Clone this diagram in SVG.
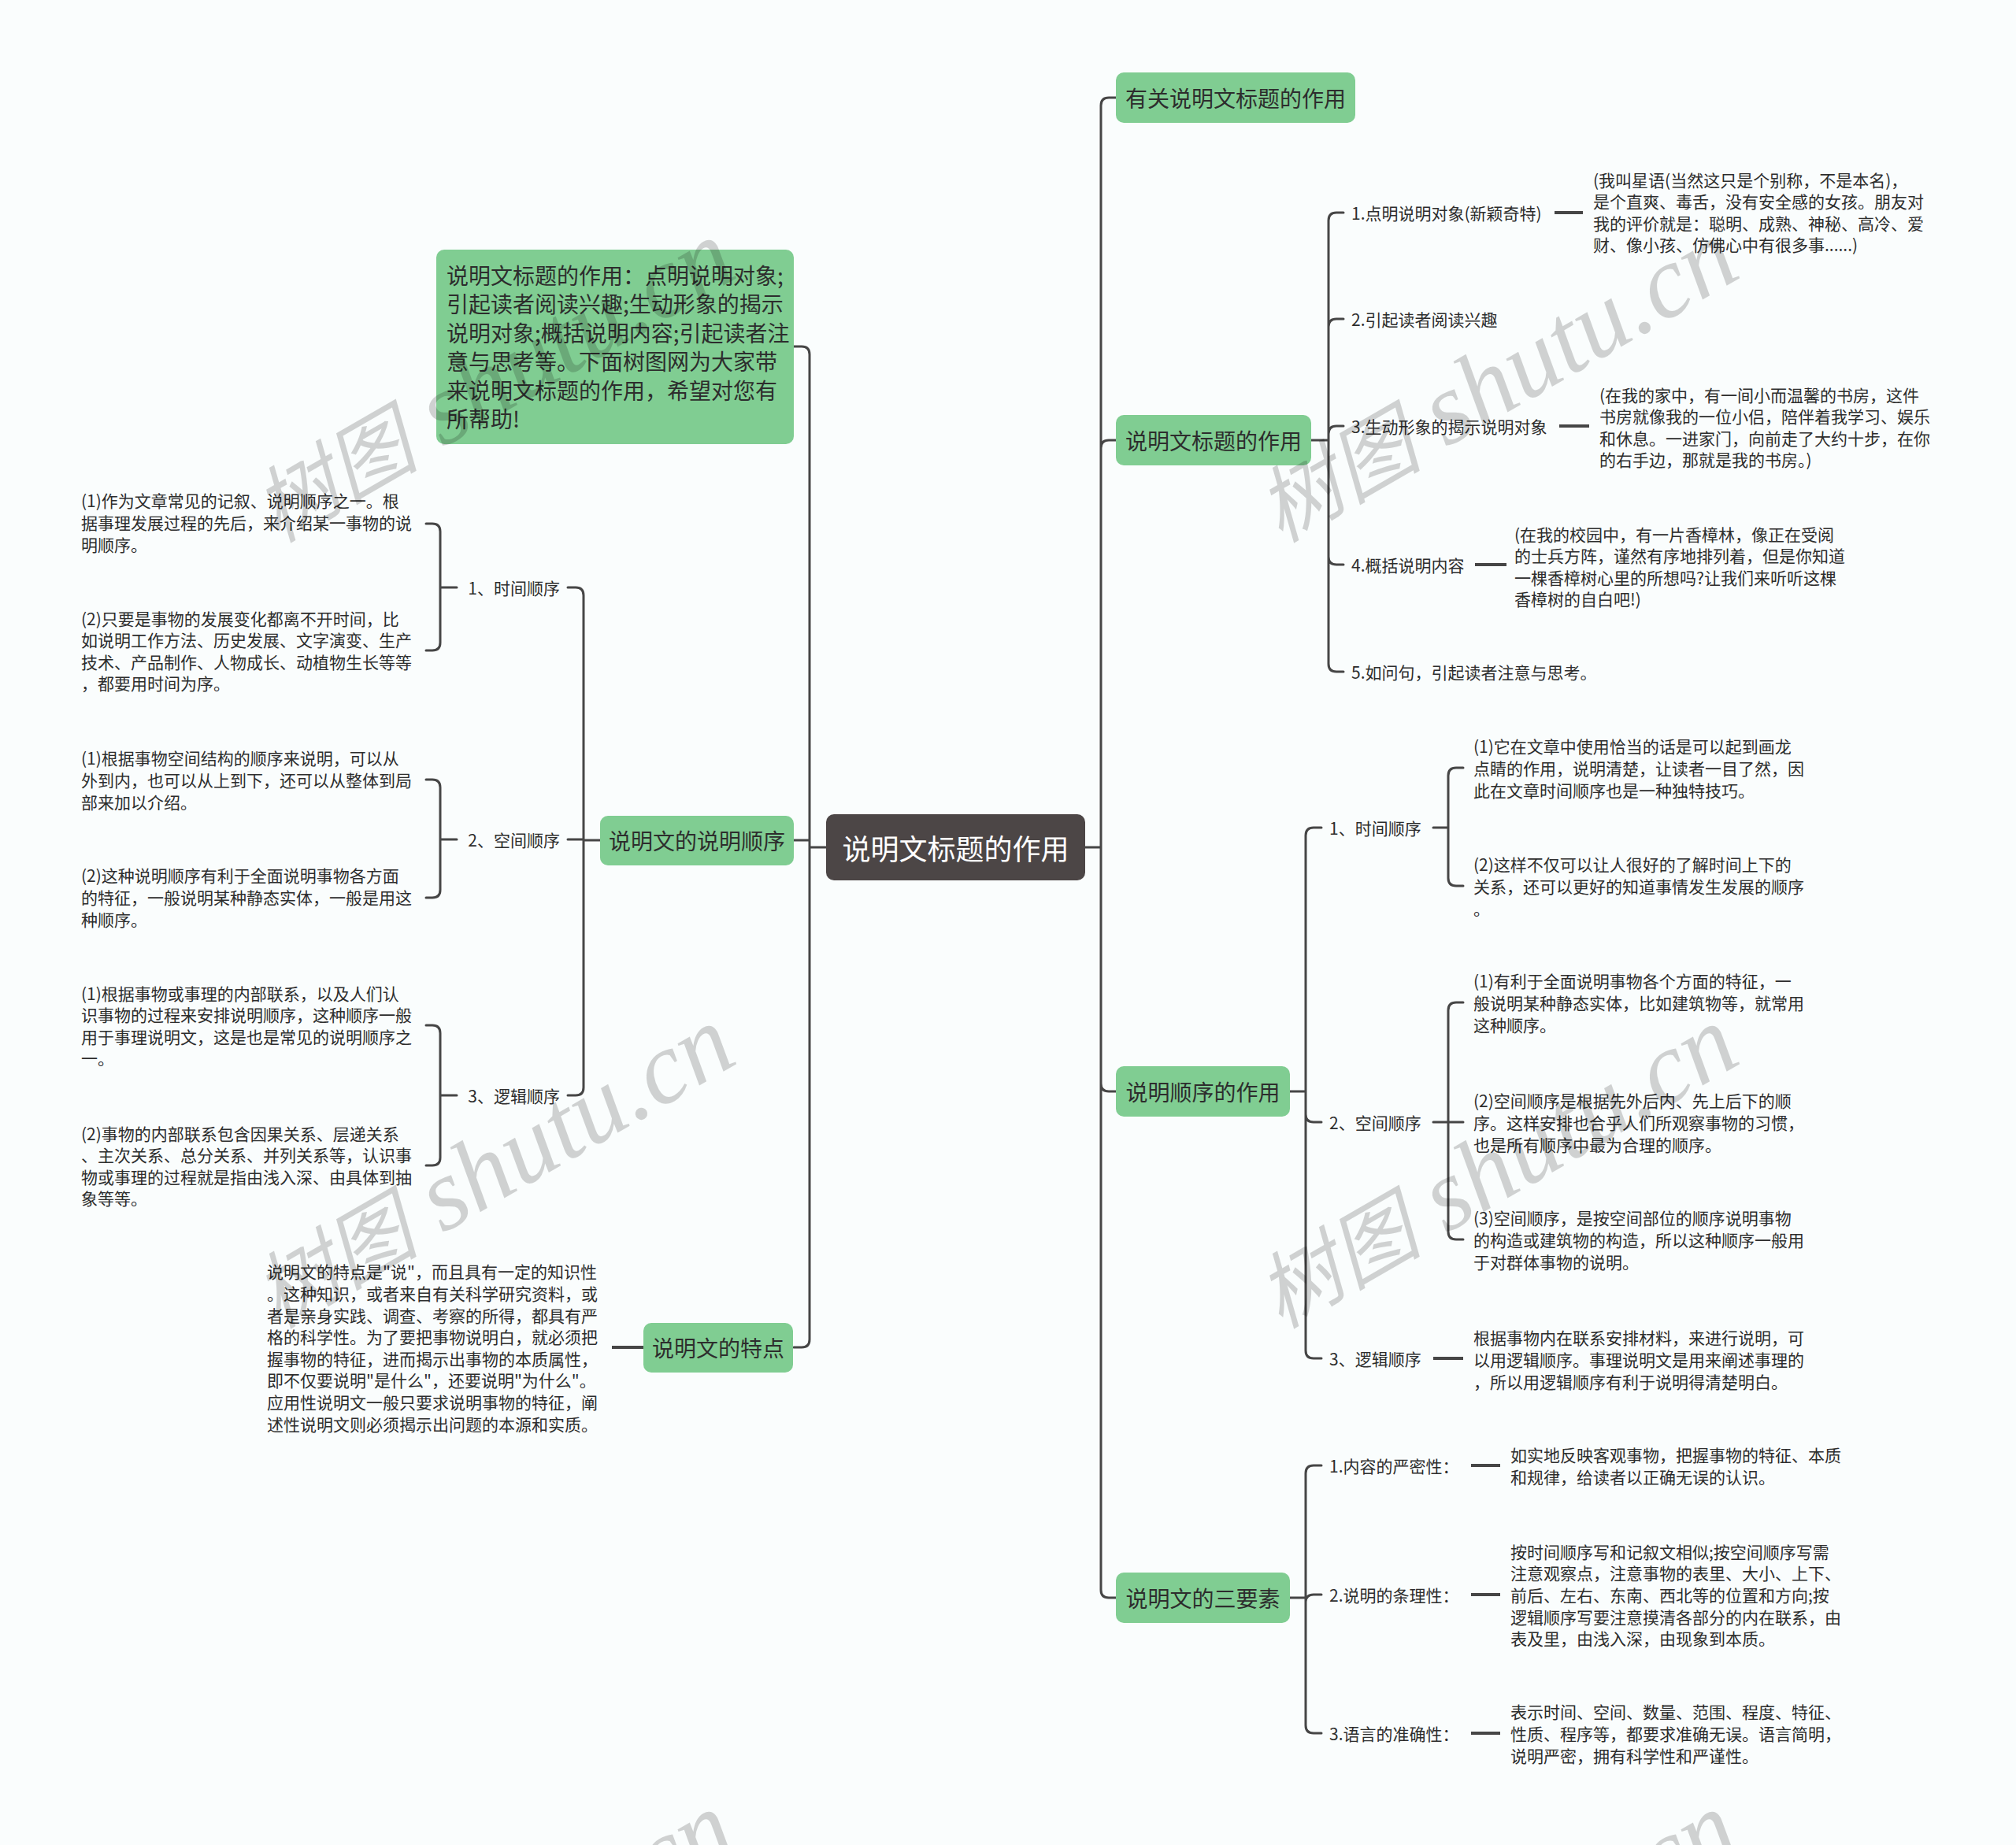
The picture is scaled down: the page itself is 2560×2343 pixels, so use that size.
<svg xmlns="http://www.w3.org/2000/svg" width="2560" height="2343" viewBox="0 0 2560 2343">
<style>
text,tspan{dominant-baseline:central}
.ln{fill:none;stroke:#464646;stroke-width:3;stroke-linecap:round;stroke-linejoin:round}
.dl{fill:none;stroke:#464646;stroke-width:4}
.gn{fill:#80cd92}
.rt{fill:#4c4646}
.tg{font-family:"Noto Sans CJK SC","Noto Sans",sans-serif;font-size:28px;fill:#2d2d2d;text-anchor:middle}
.tb{font-family:"Noto Sans CJK SC","Noto Sans",sans-serif;font-size:28px;fill:#2d2d2d}
.ts{font-family:"Noto Sans CJK SC","Noto Sans",sans-serif;font-size:21px;fill:#2d2d2d}
.te{text-anchor:end}
.wm{font-family:"Liberation Serif","Noto Sans CJK SC",serif;font-style:italic;font-size:105px;fill:#000;opacity:0.17}
.wm tspan,.wm{dominant-baseline:alphabetic}
.wl{font-size:130px}
</style>
<rect width="2560" height="2343" fill="#fafdfd"/>

<g id="connectors">
<path class="ln" d="M1378,1076 H1398 M1398,1076 V134 Q1398,124 1408,124 H1417 M1398,1076 V569 Q1398,559 1408,559 H1417 M1398,1076 V1376 Q1398,1386 1408,1386 H1417 M1398,1076 V2019 Q1398,2029 1408,2029 H1417"/>
<path class="ln" d="M1049,1076 H1028 M1028,1076 V450 Q1028,440 1018,440 H1008 M1008,1067 H1028 M1028,1076 V1701 Q1028,1711 1018,1711 H1008"/>
<path class="ln" d="M1665,559 H1687 M1687,559 V280 Q1687,270 1697,270 H1706 M1687,559 V415 Q1687,405 1697,405 H1706 M1687,559 V551 Q1687,541 1697,541 H1706 M1687,559 V707 Q1687,717 1697,717 H1706 M1687,559 V843 Q1687,853 1697,853 H1706"/>
<path class="dl" d="M1974,270 H2010 M1980,541 H2018 M1873,717 H1913"/>
<path class="ln" d="M1638,1386 H1658 M1658,1386 V1061 Q1658,1051 1668,1051 H1678 M1658,1386 V1415 Q1658,1425 1668,1425 H1678 M1658,1386 V1715 Q1658,1725 1668,1725 H1678"/>
<path class="ln" d="M1820,1051 H1839 M1839,1051 V985 Q1839,975 1849,975 H1858 M1839,1051 V1115 Q1839,1125 1849,1125 H1858"/>
<path class="ln" d="M1820,1425 H1858 M1839,1425 V1283 Q1839,1273 1849,1273 H1858 M1839,1425 V1564 Q1839,1574 1849,1574 H1858"/>
<path class="dl" d="M1820,1725 H1858"/>
<path class="ln" d="M1638,2029 H1658 M1658,2029 V1871 Q1658,1861 1668,1861 H1678 M1658,2029 V2035 Q1658,2025 1668,2025 H1678 M1658,2029 V2191 Q1658,2201 1668,2201 H1678"/>
<path class="dl" d="M1868,1861 H1905 M1868,2025 H1905 M1868,2201 H1905"/>
<path class="ln" d="M762,1067 H741 M741,1067 V756 Q741,746 731,746 H721 M741,1066 H721 M741,1067 V1381 Q741,1391 731,1391 H721"/>
<path class="ln" d="M580,746 H559 M559,746 V675 Q559,665 549,665 H541 M559,746 V816 Q559,826 549,826 H541"/>
<path class="ln" d="M580,1066 H559 M559,1066 V1000 Q559,990 549,990 H541 M559,1066 V1130 Q559,1140 549,1140 H541"/>
<path class="ln" d="M580,1391 H559 M559,1391 V1312 Q559,1302 549,1302 H541 M559,1391 V1470 Q559,1480 549,1480 H541"/>
<path class="dl" d="M817,1711 H777"/>
</g>

<g id="root">
<rect class="rt" x="1049" y="1034" width="329" height="84" rx="10"/>
<text x="1213.5" y="1076" font-family="Noto Sans CJK SC, sans-serif" font-size="36" fill="#ffffff" text-anchor="middle">说明文标题的作用</text>
</g>

<g id="n-r1">
<rect class="gn" x="1417" y="92" width="304" height="64" rx="10"/>
<text class="tg" x="1569" y="124">有关说明文标题的作用</text>
</g>

<g id="n-r2">
<rect class="gn" x="1417" y="527" width="248" height="64" rx="10"/>
<text class="tg" x="1541" y="559">说明文标题的作用</text>
</g>
<g id="n-r2-1">
<text class="ts" x="1716" y="270">1.点明说明对象(新颖奇特)</text>
<text class="ts"><tspan x="2023" y="227.6">(我叫星语(当然这只是个别称，不是本名)，</tspan><tspan x="2023" y="255.2">是个直爽、毒舌，没有安全感的女孩。朋友对</tspan><tspan x="2023" y="282.8">我的评价就是：聪明、成熟、神秘、高冷、爱</tspan><tspan x="2023" y="310.4">财、像小孩、仿佛心中有很多事......)</tspan></text>
</g>
<g id="n-r2-2"><text class="ts" x="1716" y="405">2.引起读者阅读兴趣</text></g>
<g id="n-r2-3">
<text class="ts" x="1716" y="541">3.生动形象的揭示说明对象</text>
<text class="ts"><tspan x="2031" y="500.6">(在我的家中，有一间小而温馨的书房，这件</tspan><tspan x="2031" y="528.2">书房就像我的一位小侣，陪伴着我学习、娱乐</tspan><tspan x="2031" y="555.8">和休息。一进家门，向前走了大约十步，在你</tspan><tspan x="2031" y="583.4">的右手边，那就是我的书房。)</tspan></text>
</g>
<g id="n-r2-4">
<text class="ts" x="1716" y="717">4.概括说明内容</text>
<text class="ts"><tspan x="1923" y="677.6">(在我的校园中，有一片香樟林，像正在受阅</tspan><tspan x="1923" y="705.2">的士兵方阵，谨然有序地排列着，但是你知道</tspan><tspan x="1923" y="732.8">一棵香樟树心里的所想吗?让我们来听听这棵</tspan><tspan x="1923" y="760.4">香樟树的自白吧!)</tspan></text>
</g>
<g id="n-r2-5"><text class="ts" x="1716" y="853">5.如问句，引起读者注意与思考。</text></g>

<g id="n-r3">
<rect class="gn" x="1417" y="1354" width="221" height="64" rx="10"/>
<text class="tg" x="1527.5" y="1386">说明顺序的作用</text>
</g>
<g id="n-r3-1">
<text class="ts" x="1688" y="1051">1、时间顺序</text>
<text class="ts"><tspan x="1871" y="947.4">(1)它在文章中使用恰当的话是可以起到画龙</tspan><tspan x="1871" y="975">点睛的作用，说明清楚，让读者一目了然，因</tspan><tspan x="1871" y="1002.6">此在文章时间顺序也是一种独特技巧。</tspan></text>
<text class="ts"><tspan x="1871" y="1097.4">(2)这样不仅可以让人很好的了解时间上下的</tspan><tspan x="1871" y="1125">关系，还可以更好的知道事情发生发展的顺序</tspan><tspan x="1871" y="1152.6">。</tspan></text>
</g>
<g id="n-r3-2">
<text class="ts" x="1688" y="1425">2、空间顺序</text>
<text class="ts"><tspan x="1871" y="1245.4">(1)有利于全面说明事物各个方面的特征，一</tspan><tspan x="1871" y="1273">般说明某种静态实体，比如建筑物等，就常用</tspan><tspan x="1871" y="1300.6">这种顺序。</tspan></text>
<text class="ts"><tspan x="1871" y="1397.4">(2)空间顺序是根据先外后内、先上后下的顺</tspan><tspan x="1871" y="1425">序。这样安排也合乎人们所观察事物的习惯，</tspan><tspan x="1871" y="1452.6">也是所有顺序中最为合理的顺序。</tspan></text>
<text class="ts"><tspan x="1871" y="1546.4">(3)空间顺序，是按空间部位的顺序说明事物</tspan><tspan x="1871" y="1574">的构造或建筑物的构造，所以这种顺序一般用</tspan><tspan x="1871" y="1601.6">于对群体事物的说明。</tspan></text>
</g>
<g id="n-r3-3">
<text class="ts" x="1688" y="1725">3、逻辑顺序</text>
<text class="ts"><tspan x="1871" y="1698.4">根据事物内在联系安排材料，来进行说明，可</tspan><tspan x="1871" y="1726">以用逻辑顺序。事理说明文是用来阐述事理的</tspan><tspan x="1871" y="1753.6">，所以用逻辑顺序有利于说明得清楚明白。</tspan></text>
</g>

<g id="n-r4">
<rect class="gn" x="1417" y="1997" width="221" height="64" rx="10"/>
<text class="tg" x="1527.5" y="2029">说明文的三要素</text>
</g>
<g id="n-r4-1">
<text class="ts" x="1688" y="1861">1.内容的严密性：</text>
<text class="ts"><tspan x="1918" y="1847.2">如实地反映客观事物，把握事物的特征、本质</tspan><tspan x="1918" y="1874.8">和规律，给读者以正确无误的认识。</tspan></text>
</g>
<g id="n-r4-2">
<text class="ts" x="1688" y="2025">2.说明的条理性：</text>
<text class="ts"><tspan x="1918" y="1969.8">按时间顺序写和记叙文相似;按空间顺序写需</tspan><tspan x="1918" y="1997.4">注意观察点，注意事物的表里、大小、上下、</tspan><tspan x="1918" y="2025">前后、左右、东南、西北等的位置和方向;按</tspan><tspan x="1918" y="2052.6">逻辑顺序写要注意摸清各部分的内在联系，由</tspan><tspan x="1918" y="2080.2">表及里，由浅入深，由现象到本质。</tspan></text>
</g>
<g id="n-r4-3">
<text class="ts" x="1688" y="2201">3.语言的准确性：</text>
<text class="ts"><tspan x="1918" y="2173.4">表示时间、空间、数量、范围、程度、特征、</tspan><tspan x="1918" y="2201">性质、程序等，都要求准确无误。语言简明，</tspan><tspan x="1918" y="2228.6">说明严密，拥有科学性和严谨性。</tspan></text>
</g>

<g id="n-l1">
<rect class="gn" x="554" y="317" width="454" height="247" rx="10"/>
<text class="tb"><tspan x="567" y="348.8">说明文标题的作用：点明说明对象;</tspan><tspan x="567" y="385.3">引起读者阅读兴趣;生动形象的揭示</tspan><tspan x="567" y="421.8">说明对象;概括说明内容;引起读者注</tspan><tspan x="567" y="458.3">意与思考等。下面树图网为大家带</tspan><tspan x="567" y="494.8">来说明文标题的作用，希望对您有</tspan><tspan x="567" y="531.3">所帮助!</tspan></text>
</g>

<g id="n-l2">
<rect class="gn" x="762" y="1036" width="246" height="63" rx="10"/>
<text class="tg" x="885" y="1067">说明文的说明顺序</text>
</g>
<g id="n-l2-1">
<text class="ts te" x="711" y="746">1、时间顺序</text>
<text class="ts"><tspan x="103" y="635.4">(1)作为文章常见的记叙、说明顺序之一。根</tspan><tspan x="103" y="663">据事理发展过程的先后，来介绍某一事物的说</tspan><tspan x="103" y="690.6">明顺序。</tspan></text>
<text class="ts"><tspan x="103" y="784.6">(2)只要是事物的发展变化都离不开时间，比</tspan><tspan x="103" y="812.2">如说明工作方法、历史发展、文字演变、生产</tspan><tspan x="103" y="839.8">技术、产品制作、人物成长、动植物生长等等</tspan><tspan x="103" y="867.4">，都要用时间为序。</tspan></text>
</g>
<g id="n-l2-2">
<text class="ts te" x="711" y="1066">2、空间顺序</text>
<text class="ts"><tspan x="103" y="962.4">(1)根据事物空间结构的顺序来说明，可以从</tspan><tspan x="103" y="990">外到内，也可以从上到下，还可以从整体到局</tspan><tspan x="103" y="1017.6">部来加以介绍。</tspan></text>
<text class="ts"><tspan x="103" y="1111.4">(2)这种说明顺序有利于全面说明事物各方面</tspan><tspan x="103" y="1139">的特征，一般说明某种静态实体，一般是用这</tspan><tspan x="103" y="1166.6">种顺序。</tspan></text>
</g>
<g id="n-l2-3">
<text class="ts te" x="711" y="1391">3、逻辑顺序</text>
<text class="ts"><tspan x="103" y="1260.6">(1)根据事物或事理的内部联系，以及人们认</tspan><tspan x="103" y="1288.2">识事物的过程来安排说明顺序，这种顺序一般</tspan><tspan x="103" y="1315.8">用于事理说明文，这是也是常见的说明顺序之</tspan><tspan x="103" y="1343.4">一。</tspan></text>
<text class="ts"><tspan x="103" y="1438.6">(2)事物的内部联系包含因果关系、层递关系</tspan><tspan x="103" y="1466.2">、主次关系、总分关系、并列关系等，认识事</tspan><tspan x="103" y="1493.8">物或事理的过程就是指由浅入深、由具体到抽</tspan><tspan x="103" y="1521.4">象等等。</tspan></text>
</g>

<g id="n-l3">
<rect class="gn" x="817" y="1680" width="190" height="63" rx="10"/>
<text class="tg" x="912" y="1711">说明文的特点</text>
<text class="ts"><tspan x="339" y="1614.4">说明文的特点是"说"，而且具有一定的知识性</tspan><tspan x="339" y="1642">。这种知识，或者来自有关科学研究资料，或</tspan><tspan x="339" y="1669.6">者是亲身实践、调查、考察的所得，都具有严</tspan><tspan x="339" y="1697.2">格的科学性。为了要把事物说明白，就必须把</tspan><tspan x="339" y="1724.8">握事物的特征，进而揭示出事物的本质属性，</tspan><tspan x="339" y="1752.4">即不仅要说明"是什么"，还要说明"为什么"。</tspan><tspan x="339" y="1780">应用性说明文一般只要求说明事物的特征，阐</tspan><tspan x="339" y="1807.6">述性说明文则必须揭示出问题的本源和实质。</tspan></text>
</g>

<g id="watermarks">
<text class="wm" transform="translate(352,690) rotate(-30)">树图<tspan class="wl"> shutu.cn</tspan></text>
<text class="wm" transform="translate(1626,690) rotate(-30)">树图<tspan class="wl"> shutu.cn</tspan></text>
<text class="wm" transform="translate(352,1688) rotate(-30)">树图<tspan class="wl"> shutu.cn</tspan></text>
<text class="wm" transform="translate(1626,1688) rotate(-30)">树图<tspan class="wl"> shutu.cn</tspan></text>
<text class="wm" transform="translate(352,2686) rotate(-30)">树图<tspan class="wl"> shutu.cn</tspan></text>
<text class="wm" transform="translate(1626,2686) rotate(-30)">树图<tspan class="wl"> shutu.cn</tspan></text>
</g>
</svg>
